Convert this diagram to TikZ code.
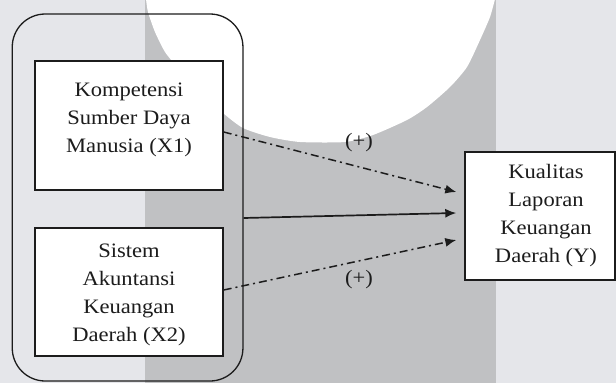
\documentclass[tikz,border=0pt]{standalone}
\usepackage{fontspec}
\setmainfont{Liberation Serif}[FakeStretch=1.1]
\usetikzlibrary{arrows.meta,calc}
\definecolor{bglight}{RGB}{229,230,234}
\definecolor{bgmid}{RGB}{192,193,195}
\definecolor{ink}{RGB}{28,28,28}
\begin{document}
\begin{tikzpicture}[x=1pt,y=-1pt,
  box/.style={draw=ink, line width=1.4pt, fill=white, inner sep=0pt},
  group/.style={draw=ink, line width=1.3pt, rounded corners=33pt, inner sep=0pt},
  lbl/.style={inner sep=0pt, align=center, text=ink, font=\fontsize{20.5}{28}\selectfont},
  dashdot/.style={draw=ink, line width=1.5pt, dash pattern=on 8pt off 4pt on 2pt off 4pt, -{Latex[length=11pt,width=9pt]}},
  solidarrow/.style={draw=ink, line width=1.7pt, -{Latex[length=11pt,width=9pt]}}]
\useasboundingbox (0,0) rectangle (616,383);
\fill[bglight] (0,0) rectangle (616,383);
\fill[bgmid] (145,0) rectangle (496,383);
\fill[white] plot[smooth,tension=0.4] coordinates {(146,-1) (148,12) (155,32) (165,52) (178,68) (198,90) (223,113) (243,128) (270,137) (300,142) (345,142) (373,135) (407,120) (427,107) (450,87) (467,67) (480,40) (490,17) (495,-1)} -- cycle;

\node[group, minimum width=230.7pt, minimum height=367pt] (grp) at (127.6,197.5) {};
\node[box, minimum width=188pt, minimum height=129pt] (b1) at (129,125.5) {};
\node[box, minimum width=188pt, minimum height=128pt] (b2) at (129,292) {};
\node[box, minimum width=150pt, minimum height=128pt] (y) at (540,216) {};

\node[lbl] (t1) at (129,119.8) {Kompetensi\\Sumber Daya\\Manusia (X1)};
\node[lbl] (t2) at (129,294.8) {Sistem\\Akuntansi\\Keuangan\\Daerah (X2)};
\node[lbl] (ty) at (546,215.8) {Kualitas\\Laporan\\Keuangan\\Daerah (Y)};

\draw[dashdot] ([yshift=-6.5pt]b1.east) -- ([xshift=-8pt,yshift=24pt]y.west);
\draw[solidarrow] ([yshift=-20.5pt]grp.east) -- ([xshift=-8pt,yshift=3pt]y.west);
\draw[dashdot] ([yshift=2pt]b2.east) -- ([xshift=-8pt,yshift=-24pt]y.west);

\node[lbl] (p1) at (359,143) {(+)};
\node[lbl] (p2) at (359,280) {(+)};
\end{tikzpicture}
\end{document}
